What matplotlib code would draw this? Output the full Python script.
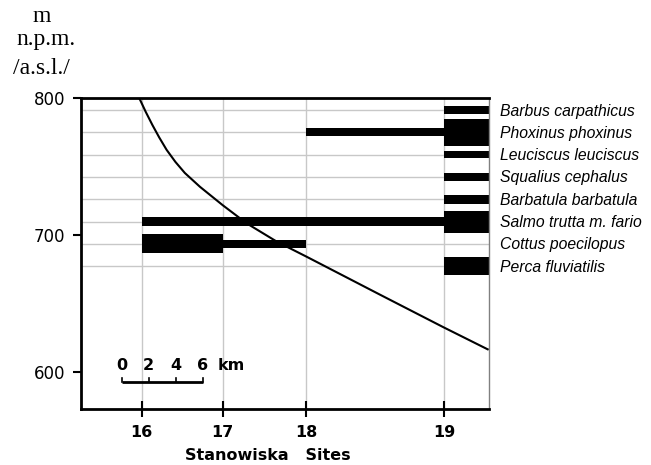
import matplotlib
matplotlib.use("Agg")
import matplotlib.pyplot as plt
from matplotlib.transforms import blended_transform_factory

# ---------------- data ----------------
species = ["Barbus carpathicus", "Phoxinus phoxinus", "Leuciscus leuciscus",
           "Squalius cephalus", "Barbatula barbatula", "Salmo trutta m. fario",
           "Cottus poecilopus", "Perca fluviatilis"]
site_labels = ["16", "17", "18", "19"]
site_km = [0.0, 6.0, 12.2, 22.4]          # distance along river
profile_end_km = 25.73                     # downstream end of plotted stretch

# bar thickness (m, on elevation scale) per stretch: 16-17, 17-18, 18-19, 19-end
thick_barbus    = [0, 0, 0, 5.8]
thick_phoxinus  = [0, 0, 6.0, 19.7]
thick_leuciscus = [0, 0, 0, 5.6]
thick_squalius  = [0, 0, 0, 5.2]
thick_barbatula = [0, 0, 0, 6.3]
thick_salmo     = [6.1, 6.1, 6.1, 16.1]
thick_cottus    = [13.9, 5.6, 0, 0]
thick_perca     = [0, 0, 0, 13.4]
thickness = [thick_barbus, thick_phoxinus, thick_leuciscus, thick_squalius,
             thick_barbatula, thick_salmo, thick_cottus, thick_perca]

# elevation profile of the river
profile_km = [-0.18, 0.3, 0.8, 1.3, 1.85, 2.5, 3.2, 4.32, 6.0, 7.78, 10.0,
              12.22, 15.2, 17.65, 22.35, 25.7]
profile_m = [800, 789.9, 780.2, 771.2, 762.1, 753.3, 745.2, 735.1, 721.7,
             708.4, 695.1, 684, 668.8, 656.3, 632.5, 616]

y_ticks = [600, 700, 800]
scale_km = [0, 2, 4, 6]

# ---------------- layout ----------------
W, H = 651, 465
fig = plt.figure(figsize=(W / 100, H / 100), dpi=100)
ax_l, ax_r, ax_t, ax_b = 80.5, 489, 98, 409.3
ax = fig.add_axes([ax_l / W, 1 - ax_b / H, (ax_r - ax_l) / W, (ax_b - ax_t) / H])
ax.set_xlim(-4.53, profile_end_km)
ax.set_ylim(572.5, 800)

row_top, row_step = 791.2, 16.3
rows = [row_top - i * row_step for i in range(len(species))]

grid_c = "#c8c8c8"
for r in rows:
    ax.axhline(r, color=grid_c, lw=1.0, zorder=1)
for s in site_km:
    ax.axvline(s, color=grid_c, lw=1.0, zorder=1)

seg_start = site_km
seg_end = site_km[1:] + [profile_end_km]
for r, th in zip(rows, thickness):
    for a, b, t in zip(seg_start, seg_end, th):
        if t > 0:
            ax.barh(r, b - a, left=a, height=t, color="black", zorder=2,
                    linewidth=0)

ax.plot(profile_km, profile_m, color="black", lw=1.5, zorder=3,
        solid_capstyle="butt", solid_joinstyle="round")

# spines
for k in ["left", "bottom", "top"]:
    ax.spines[k].set_linewidth(2.0)
    ax.spines[k].set_color("black")
ax.spines["right"].set_linewidth(1.0)
ax.spines["right"].set_color("#808080")

ax.set_yticks(y_ticks)
ax.set_yticklabels([str(v) for v in y_ticks], fontsize=12,
                   family="DejaVu Sans")
ax.tick_params(axis="y", direction="out", length=6, width=1.5, pad=5)
ax.set_xticks(site_km)
ax.set_xticklabels(site_labels, fontsize=11.5, fontweight="bold",
                   family="DejaVu Sans")
ax.tick_params(axis="x", direction="inout", length=12, width=1.5, pad=5)

# scale bar
sb_x0 = -1.48
sb_y = 592.1
ax.plot([sb_x0 + scale_km[0], sb_x0 + scale_km[-1]], [sb_y, sb_y],
        color="black", lw=2, zorder=4, solid_capstyle="butt")
for k in scale_km:
    ax.plot([sb_x0 + k, sb_x0 + k], [sb_y, sb_y + 3], color="black",
            lw=1.2, zorder=4)
    ax.text(sb_x0 + k, 604.2, str(k), ha="center", va="center",
            fontsize=11.5, fontweight="bold", family="DejaVu Sans", zorder=4)
ax.text(sb_x0 + 8.13, 604.2, "km", ha="center", va="center",
        fontsize=11.5, fontweight="bold", family="DejaVu Sans", zorder=4)

# species labels
tr = blended_transform_factory(fig.transFigure, ax.transData)
for r, name in zip(rows, species):
    ax.text(500 / W, r - 4.0, name, transform=tr, ha="left", va="baseline",
            fontsize=11.3, style="italic", family="Liberation Sans",
            clip_on=False)

# y-axis unit label
for txt, yc, xc in [("m", 17, 42), ("n.p.m.", 40, 45.5), ("/a.s.l./", 68, 41)]:
    fig.text(xc / W, 1 - yc / H, txt, ha="center", va="center",
             fontsize=17, family="Liberation Serif")

# x label
fig.text(267.7 / W, 1 - 460 / H, "Stanowiska   Sites", ha="center",
         va="baseline", fontsize=11.5, fontweight="bold", family="DejaVu Sans")

fig.savefig("out.png", dpi=100)
